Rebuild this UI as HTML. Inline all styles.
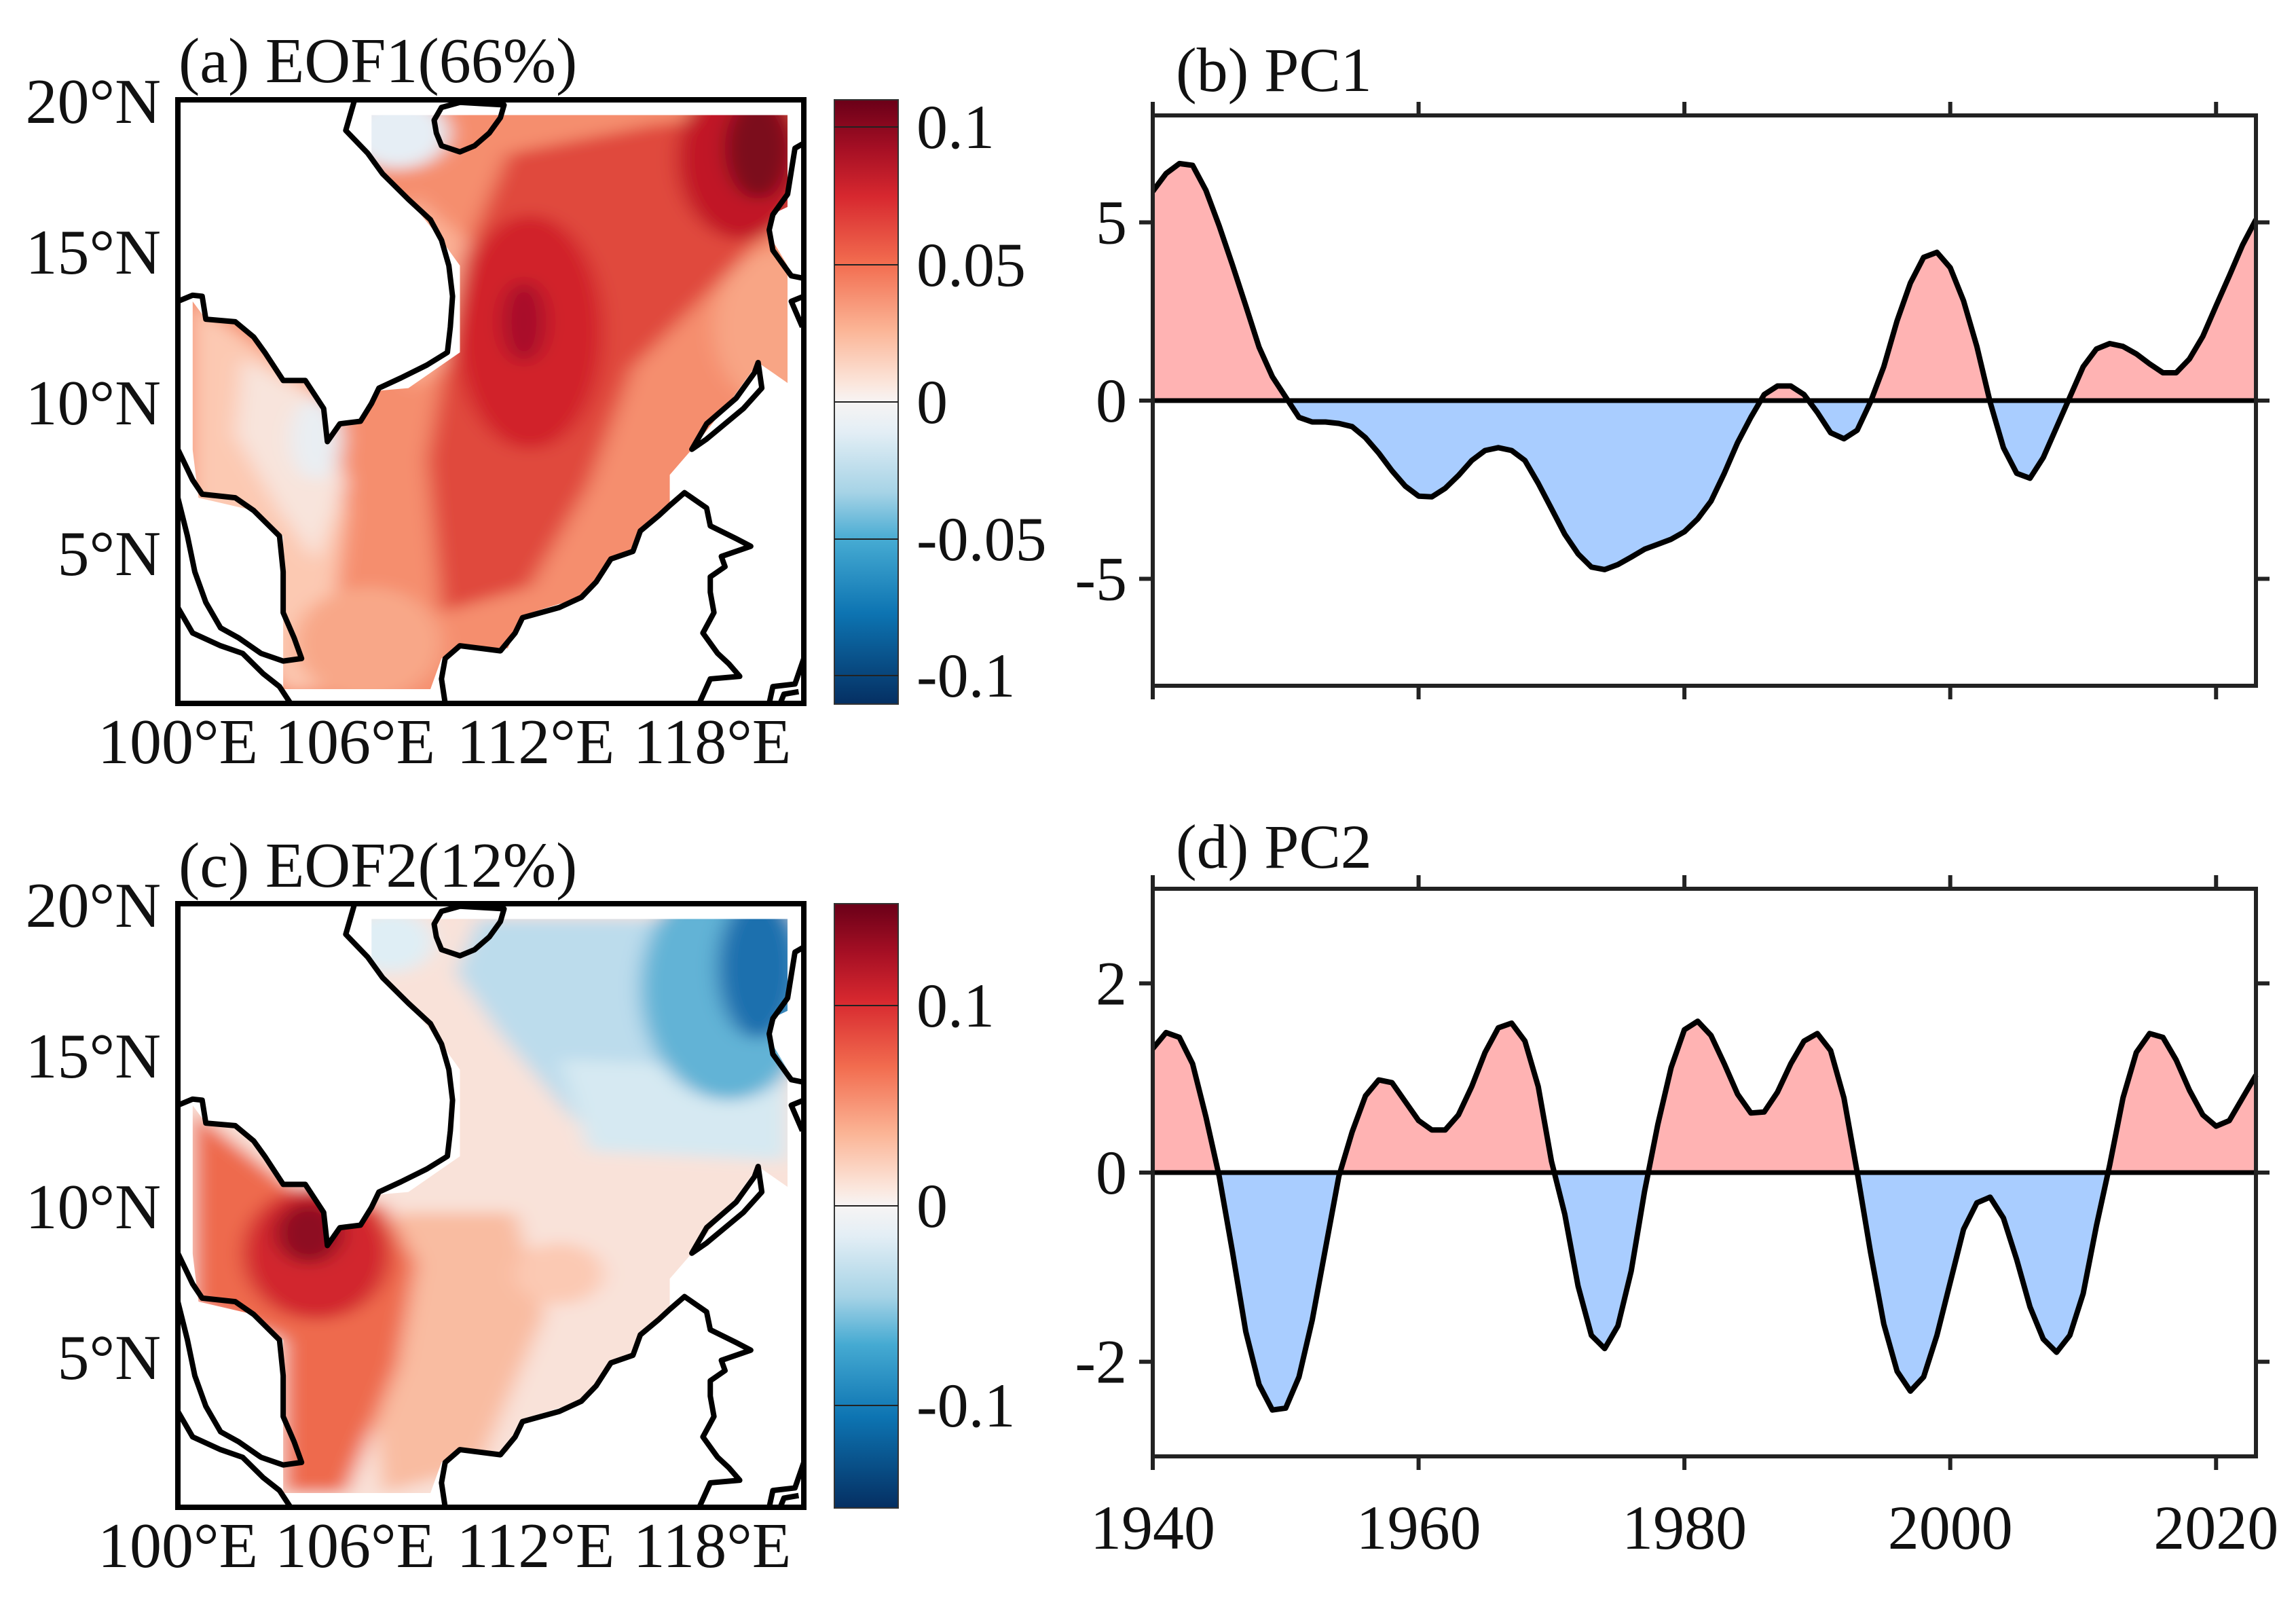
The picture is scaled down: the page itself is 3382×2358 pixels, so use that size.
<!DOCTYPE html>
<html><head><meta charset="utf-8"><style>
html,body{margin:0;padding:0;background:#fff;}
svg text{font-family:"Liberation Serif",serif;fill:#111;}
</style></head><body>
<svg id="fig" xmlns="http://www.w3.org/2000/svg" width="3382" height="2353" viewBox="0 0 3382 2353">
<defs>
<linearGradient id="cbar" x1="0" y1="0" x2="0" y2="1">
<stop offset="0" stop-color="#6a0018"/><stop offset="0.08" stop-color="#a50f24"/><stop offset="0.16" stop-color="#d7282f"/>
<stop offset="0.27" stop-color="#f26c4f"/><stop offset="0.38" stop-color="#fbb495"/><stop offset="0.47" stop-color="#fbe6dc"/>
<stop offset="0.5" stop-color="#f7f4f4"/><stop offset="0.55" stop-color="#e3eef5"/><stop offset="0.65" stop-color="#a6d3e6"/>
<stop offset="0.73" stop-color="#45aad2"/><stop offset="0.85" stop-color="#0d74b2"/><stop offset="1" stop-color="#052f62"/>
</linearGradient>
<clipPath id="sea"><polygon points="505,225 1070,225 1070,405 1048,420 1045,460 1070,520 1070,750 1030,710 995,780 940,880 910,930 910,990 895,1010 870,1040 860,1080 830,1095 810,1140 790,1170 710,1205 690,1270 620,1265 600,1290 585,1350 385,1350 385,1050 345,1000 270,975 262,880 262,590 280,625 320,630 360,690 385,745 415,745 440,800 445,865 462,830 490,825 515,765 555,760 610,705 625,690 625,520 600,470 555,390 505,320"/></clipPath>
<filter id="blur" filterUnits="userSpaceOnUse" x="150" y="100" width="1050" height="1400"><feGaussianBlur stdDeviation="14"/></filter>
</defs>

<!-- Panel a map -->
<text x="263" y="90" font-size="94" dominant-baseline="central">(a) EOF1(66%)</text>
<svg x="262" y="147" width="922" height="889" viewBox="242 195 850 1183" preserveAspectRatio="none">
<g clip-path="url(#sea)"><g filter="url(#blur)">
<rect x="200" y="150" width="950" height="1300" fill="#f58e6e"/>
<polygon points="262,590 430,760 470,1000 440,1350 385,1350 262,980" fill="#fcc9b2"/>
<polygon points="330,700 440,790 470,950 430,1100 380,1000 320,850" fill="#f8e4dc"/>
<ellipse cx="430" cy="860" rx="35" ry="80" fill="#e9eef3"/>
<ellipse cx="540" cy="260" rx="70" ry="70" fill="#e6eef5"/>
<polygon points="560,380 640,480 620,700 560,760 520,600" fill="#fbb195"/>
<polygon points="600,1200 580,900 630,500 690,300 900,240 1070,240 1060,420 1000,520 860,720 800,950 720,1150" fill="#e04a3c"/>
<ellipse cx="720" cy="650" rx="100" ry="230" fill="#d1232b"/>
<ellipse cx="712" cy="630" rx="30" ry="80" fill="#a8102a"/>
<ellipse cx="1010" cy="310" rx="90" ry="160" fill="#c11427"/>
<ellipse cx="1030" cy="290" rx="45" ry="100" fill="#7c0b1e"/>
<ellipse cx="1050" cy="640" rx="80" ry="150" fill="#f8a585"/>
<ellipse cx="500" cy="1260" rx="100" ry="110" fill="#f8a788"/>
</g></g>
<g fill="none" stroke="#000" stroke-width="8" vector-effect="non-scaling-stroke" stroke-linejoin="round">
<polyline vector-effect="non-scaling-stroke" points="482,195 470,255 500,300 520,340 555,390 585,430 600,470 610,520 615,580 612,640 608,690 580,715 545,740 515,760 505,790 490,825 462,830 445,865 440,800 415,745 385,745 360,690 345,660 320,630 280,625 275,580 262,578 242,590"/>
<polygon vector-effect="non-scaling-stroke" points="590,235 600,210 625,200 685,205 680,230 665,260 645,285 625,297 600,285 593,260"/>
<polyline vector-effect="non-scaling-stroke" points="242,880 262,940 275,968 320,975 345,1000 380,1050 385,1120 385,1200 400,1250 410,1290 385,1295 355,1280 325,1250 300,1230 280,1180 265,1120 255,1050 242,975"/>
<polyline vector-effect="non-scaling-stroke" points="242,1190 262,1240 300,1265 330,1280 358,1320 380,1345 395,1378"/>
<polyline vector-effect="non-scaling-stroke" points="605,1378 600,1330 605,1290 625,1265 680,1275 700,1240 710,1210 760,1190 790,1170 810,1140 830,1095 860,1080 870,1040 895,1010 910,990 930,965 960,995 965,1030 1000,1055 1020,1070 980,1090 985,1110 965,1130 965,1160 970,1200 955,1240 975,1280 990,1300 1005,1325 965,1330 950,1378"/>
<polygon vector-effect="non-scaling-stroke" points="940,880 960,830 1000,780 1025,730 1030,710 1035,760 1010,800 985,830 960,860"/>
<polyline vector-effect="non-scaling-stroke" points="1092,280 1080,290 1070,380 1050,420 1045,450 1050,490 1065,520 1075,540 1092,545"/>
<polyline vector-effect="non-scaling-stroke" points="1092,580 1075,590 1090,640"/>
<polyline vector-effect="non-scaling-stroke" points="1092,1290 1080,1340 1050,1345 1045,1378"/>
<polyline vector-effect="non-scaling-stroke" points="1060,1378 1065,1360 1085,1355"/>
</g>
</svg>
<rect x="262" y="147" width="922" height="889" fill="none" stroke="#000" stroke-width="8"/>

<!-- Panel c map -->
<text x="263" y="1275" font-size="94" dominant-baseline="central">(c) EOF2(12%)</text>
<svg x="262" y="1331" width="922" height="889" viewBox="242 195 850 1183" preserveAspectRatio="none">
<g clip-path="url(#sea)"><g filter="url(#blur)">
<rect x="200" y="150" width="950" height="1300" fill="#f9e2d9"/>
<polygon points="650,225 1070,225 1070,660 900,680 780,620 680,450 620,330" fill="#bcdcec"/>
<polygon points="760,500 1070,520 1070,700 800,680" fill="#d6e9f2"/>
<ellipse cx="990" cy="360" rx="120" ry="220" fill="#62b3d6"/>
<ellipse cx="1030" cy="320" rx="55" ry="140" fill="#1a6fae"/>
<ellipse cx="530" cy="270" rx="60" ry="60" fill="#dfeef5"/>
<polygon points="540,800 700,800 740,1000 650,1300 520,1350 500,1100" fill="#f9bca1"/>
<ellipse cx="760" cy="920" rx="60" ry="60" fill="#fbc9b3"/>
<polygon points="262,600 440,800 520,780 565,900 540,1100 470,1350 385,1350 385,1050 262,980" fill="#ee6a4e"/>
<ellipse cx="430" cy="880" rx="100" ry="130" fill="#d2262f"/>
<ellipse cx="420" cy="840" rx="45" ry="60" fill="#8e0c22"/>
</g></g>
<g fill="none" stroke="#000" stroke-width="8" stroke-linejoin="round">
<polyline vector-effect="non-scaling-stroke" points="482,195 470,255 500,300 520,340 555,390 585,430 600,470 610,520 615,580 612,640 608,690 580,715 545,740 515,760 505,790 490,825 462,830 445,865 440,800 415,745 385,745 360,690 345,660 320,630 280,625 275,580 262,578 242,590"/>
<polygon vector-effect="non-scaling-stroke" points="590,235 600,210 625,200 685,205 680,230 665,260 645,285 625,297 600,285 593,260"/>
<polyline vector-effect="non-scaling-stroke" points="242,880 262,940 275,968 320,975 345,1000 380,1050 385,1120 385,1200 400,1250 410,1290 385,1295 355,1280 325,1250 300,1230 280,1180 265,1120 255,1050 242,975"/>
<polyline vector-effect="non-scaling-stroke" points="242,1190 262,1240 300,1265 330,1280 358,1320 380,1345 395,1378"/>
<polyline vector-effect="non-scaling-stroke" points="605,1378 600,1330 605,1290 625,1265 680,1275 700,1240 710,1210 760,1190 790,1170 810,1140 830,1095 860,1080 870,1040 895,1010 910,990 930,965 960,995 965,1030 1000,1055 1020,1070 980,1090 985,1110 965,1130 965,1160 970,1200 955,1240 975,1280 990,1300 1005,1325 965,1330 950,1378"/>
<polygon vector-effect="non-scaling-stroke" points="940,880 960,830 1000,780 1025,730 1030,710 1035,760 1010,800 985,830 960,860"/>
<polyline vector-effect="non-scaling-stroke" points="1092,280 1080,290 1070,380 1050,420 1045,450 1050,490 1065,520 1075,540 1092,545"/>
<polyline vector-effect="non-scaling-stroke" points="1092,580 1075,590 1090,640"/>
<polyline vector-effect="non-scaling-stroke" points="1092,1290 1080,1340 1050,1345 1045,1378"/>
<polyline vector-effect="non-scaling-stroke" points="1060,1378 1065,1360 1085,1355"/>
</g>
</svg>
<rect x="262" y="1331" width="922" height="889" fill="none" stroke="#000" stroke-width="8"/>

<!-- map axis labels -->
<g font-size="94" text-anchor="end" dominant-baseline="central">
<text x="237" y="150">20°N</text><text x="237" y="372">15°N</text><text x="237" y="594">10°N</text><text x="237" y="816">5°N</text>
</g>
<g font-size="94" text-anchor="end" dominant-baseline="central">
<text x="237" y="1334">20°N</text><text x="237" y="1556">15°N</text><text x="237" y="1778">10°N</text><text x="237" y="2000">5°N</text>
</g>
<g font-size="94" text-anchor="middle" dominant-baseline="central">
<text x="262" y="1093">100°E</text><text x="523" y="1093">106°E</text><text x="789" y="1093">112°E</text><text x="1049" y="1093">118°E</text>
</g>
<g font-size="94" text-anchor="middle" dominant-baseline="central">
<text x="262" y="2277">100°E</text><text x="523" y="2277">106°E</text><text x="789" y="2277">112°E</text><text x="1049" y="2277">118°E</text>
</g>

<!-- colorbars -->
<g>
<rect x="1229" y="147" width="94" height="890" fill="url(#cbar)" stroke="#333" stroke-width="2"/>
<g stroke="#222" stroke-width="2"><line x1="1229" x2="1323" y1="187" y2="187"/><line x1="1229" x2="1323" y1="390" y2="390"/><line x1="1229" x2="1323" y1="592" y2="592"/><line x1="1229" x2="1323" y1="794" y2="794"/><line x1="1229" x2="1323" y1="995" y2="995"/></g>
<g font-size="92" dominant-baseline="central"><text x="1350" y="187">0.1</text><text x="1350" y="390">0.05</text><text x="1350" y="592">0</text><text x="1350" y="794">-0.05</text><text x="1350" y="995">-0.1</text></g>
</g>
<g>
<rect x="1229" y="1331" width="94" height="890" fill="url(#cbar)" stroke="#333" stroke-width="2"/>
<g stroke="#222" stroke-width="2"><line x1="1229" x2="1323" y1="1481" y2="1481"/><line x1="1229" x2="1323" y1="1776" y2="1776"/><line x1="1229" x2="1323" y1="2070" y2="2070"/></g>
<g font-size="92" dominant-baseline="central"><text x="1350" y="1481">0.1</text><text x="1350" y="1776">0</text><text x="1350" y="2070">-0.1</text></g>
</g>

<text x="1732" y="103" font-size="92" dominant-baseline="central">(b) PC1</text>
<text x="1732" y="1247" font-size="92" dominant-baseline="central">(d) PC2</text>
<g id="pc1"></g>
<g id="pc2"></g>
</svg>
<script>
const startYear = 1940;
const pc1Values = [5.87,6.37,6.65,6.6,5.9,4.9,3.8,2.66,1.5,0.67,0.1,-0.47,-0.6,-0.6,-0.64,-0.73,-1.04,-1.47,-1.97,-2.4,-2.68,-2.7,-2.46,-2.1,-1.68,-1.4,-1.32,-1.4,-1.68,-2.32,-3.03,-3.75,-4.3,-4.67,-4.74,-4.6,-4.39,-4.17,-4.03,-3.89,-3.68,-3.32,-2.82,-2.04,-1.18,-0.47,0.17,0.41,0.41,0.17,-0.33,-0.9,-1.07,-0.83,-0.04,0.95,2.24,3.3,4.02,4.16,3.73,2.8,1.52,-0.04,-1.32,-2.04,-2.18,-1.6,-0.75,0.1,0.95,1.45,1.6,1.52,1.31,1.03,0.78,0.78,1.17,1.8,2.66,3.5,4.37,5.08];
const pc2Values = [1.31,1.48,1.43,1.15,0.59,-0.04,-0.84,-1.68,-2.24,-2.51,-2.49,-2.16,-1.56,-0.8,-0.04,0.43,0.81,0.98,0.95,0.75,0.55,0.45,0.45,0.61,0.91,1.27,1.53,1.58,1.39,0.91,0.12,-0.44,-1.2,-1.72,-1.86,-1.62,-1.04,-0.2,0.51,1.11,1.51,1.6,1.45,1.15,0.83,0.63,0.64,0.85,1.15,1.39,1.47,1.29,0.79,0,-0.84,-1.6,-2.1,-2.31,-2.16,-1.72,-1.16,-0.6,-0.32,-0.26,-0.48,-0.92,-1.42,-1.76,-1.9,-1.72,-1.28,-0.56,0.08,0.79,1.27,1.47,1.43,1.19,0.87,0.61,0.49,0.55,0.79,1.03];
const yearTicks = [1940,1960,1980,2000,2020];
const pc1Ticks = [-5,0,5];
const pc2Ticks = [-2,0,2];
const NS = "http://www.w3.org/2000/svg";
function mk(tag, attrs, parent){const e=document.createElementNS(NS,tag);for(const k in attrs)e.setAttribute(k,attrs[k]);parent.appendChild(e);return e;}
function drawPC(g, id, vals, yMax, ticks, top, bottom, showX){
  const L=1698,R=3323,x0=1940,x1=2023;
  const sx=y=>L+(y-x0)/(x1-x0)*(R-L);
  const sy=v=>top+(yMax-v)/(2*yMax)*(bottom-top);
  const z=sy(0);
  const defs=mk('defs',{},g);
  const cp=mk('clipPath',{id:id+'pos'},defs); mk('rect',{x:L,y:top,width:R-L,height:z-top},cp);
  const cn=mk('clipPath',{id:id+'neg'},defs); mk('rect',{x:L,y:z,width:R-L,height:bottom-z},cn);
  let pts=vals.map((v,i)=>sx(startYear+i).toFixed(1)+','+sy(v).toFixed(1));
  const area='M'+sx(startYear)+','+z+' L'+pts.join(' L')+' L'+sx(startYear+vals.length-1)+','+z+' Z';
  const pos=mk('path',{d:area,fill:'#ffb3b3','clip-path':'url(#'+id+'pos)'},g);
  
  
  const neg=mk('path',{d:area,fill:'#a9cdff','clip-path':'url(#'+id+'neg)'},g);
  
  
  const zl=mk('line',{x1:L,x2:R,y1:z,y2:z,stroke:'#000','stroke-width':7},g);
  
  
  const ln=mk('polyline',{points:pts.join(' '),fill:'none',stroke:'#000','stroke-width':8,'stroke-linejoin':'round'},g);
  
  
  const fr=mk('rect',{x:L,y:top,width:R-L,height:bottom-top,fill:'none',stroke:'#222','stroke-width':6},g);
  
  
  yearTicks.forEach(t=>{
    const x=sx(t);
    const a=mk('line',{x1:x,x2:x,y1:top,y2:top-20,stroke:'#222','stroke-width':6},g);
    
    
    const b=mk('line',{x1:x,x2:x,y1:bottom,y2:bottom+20,stroke:'#222','stroke-width':6},g);
    
    
    if(showX){
      const tx=mk('text',{x:x,y:bottom+105,'font-size':92,'text-anchor':'middle','dominant-baseline':'central'},g);
      tx.textContent=t;
      
      
    }
  });
  ticks.forEach(t=>{
    const y=sy(t);
    const a=mk('line',{x1:L,x2:L-20,y1:y,y2:y,stroke:'#222','stroke-width':6},g);
    
    
    const b=mk('line',{x1:R,x2:R+20,y1:y,y2:y,stroke:'#222','stroke-width':6},g);
    
    
    const tx=mk('text',{x:L-38,y:y,'font-size':92,'text-anchor':'end','dominant-baseline':'central'},g);
    tx.textContent=t;
    
    
  });
}
drawPC(document.getElementById('pc1'),'pc1',pc1Values,8,pc1Ticks,170,1010,false);
drawPC(document.getElementById('pc2'),'pc2',pc2Values,3,pc2Ticks,1309,2145,true);
</script>
</body></html>
